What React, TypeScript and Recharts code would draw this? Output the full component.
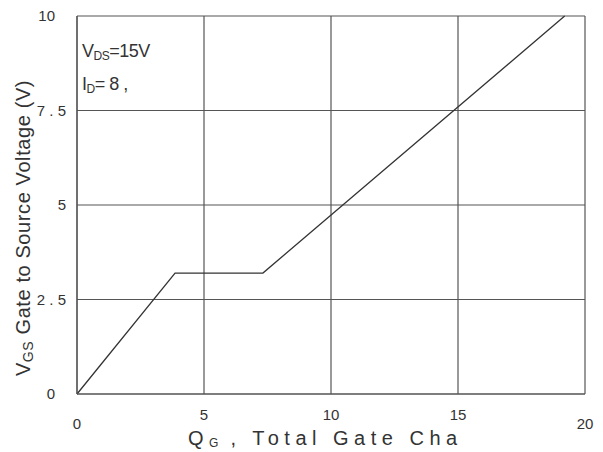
import React from 'react';
import { LineChart, Line, XAxis, YAxis, CartesianGrid, Customized } from 'recharts';

const gateCharge = [0, 3.86, 7.32, 19.2];
const gateVoltage = [0, 3.2, 3.2, 10];
const xTicks = [0, 5, 10, 15, 20];
const yTicks = [0, 2.5, 5, 7.5, 10];
const yTickLabels = ['0', '2 . 5', '5', '7 . 5', '10'];

const data = gateCharge.map((q, i) => ({ q, v: gateVoltage[i] }));

const FONT = '"Liberation Sans", Arial, sans-serif';
const INK = '#333';

const XTick = (props: any) => {
  const { x, y, payload } = props;
  const v = payload.value;
  // 5/10/15 sit higher in the original, squeezed by the axis title
  const dy = v === 0 || v === 20 ? 27 : 18;
  return (
    <text x={x} y={y + dy} textAnchor="middle" fontFamily={FONT} fontSize={15} fill={INK}>
      {v}
    </text>
  );
};

const YTick = (props: any) => {
  const { x, y, payload } = props;
  const idx = yTicks.indexOf(payload.value);
  const label = yTickLabels[idx] ?? String(payload.value);
  const short = payload.value === 0 || payload.value === 10;
  return (
    <text x={short ? x - 14 : x - 3} y={y + 5} textAnchor="end" fontFamily={FONT} fontSize={15} fill={INK}>
      {label}
    </text>
  );
};

const Labels = () => (
  <g fontFamily={FONT} fill={INK}>
    <text x={82} y={57} fontSize={18} letterSpacing={-0.5}>
      V<tspan fontSize={12} dy={3}>DS</tspan>
      <tspan dy={-3}>=15V</tspan>
    </text>
    <text x={82} y={90} fontSize={18} letterSpacing={-0.5}>
      I<tspan fontSize={12} dy={3}>D</tspan>
      <tspan dy={-3}>= 8 ,</tspan>
    </text>
    <text x={188} y={445} fontSize={20} letterSpacing={5.5}>
      Q<tspan fontSize={12} dy={2} letterSpacing={1}>G</tspan>
      <tspan dy={-2}> , Total Gate Cha</tspan>
    </text>
    <text x={30} y={228} fontSize={20} letterSpacing={0.6} textAnchor="middle" transform="rotate(-90 30 228)">
      V<tspan fontSize={14} dy={3}>GS</tspan>
      <tspan dy={-3}>  Gate to Source Voltage (V)</tspan>
    </text>
  </g>
);

export default function App() {
  return (
    <div style={{ position: 'absolute', left: 0, top: 0, background: '#fff' }}>
      <LineChart width={603} height={452} data={data} margin={{ top: 16, right: 18, bottom: 0, left: 0 }}>
        <CartesianGrid stroke="#555" strokeWidth={1.2} horizontalValues={yTicks} verticalValues={xTicks} />
        <XAxis
          dataKey="q"
          type="number"
          domain={[0, 20]}
          ticks={xTicks}
          height={58}
          axisLine={{ stroke: '#555', strokeWidth: 1.2 }}
          tickLine={false}
          tick={<XTick />}
        />
        <YAxis
          type="number"
          domain={[0, 10]}
          ticks={yTicks}
          width={77}
          axisLine={{ stroke: '#555', strokeWidth: 1.2 }}
          tickLine={false}
          tick={<YTick />}
        />
        <Line
          dataKey="v"
          type="linear"
          stroke="#333"
          strokeWidth={1.3}
          dot={false}
          isAnimationActive={false}
        />
        <Customized component={Labels} />
      </LineChart>
    </div>
  );
}
